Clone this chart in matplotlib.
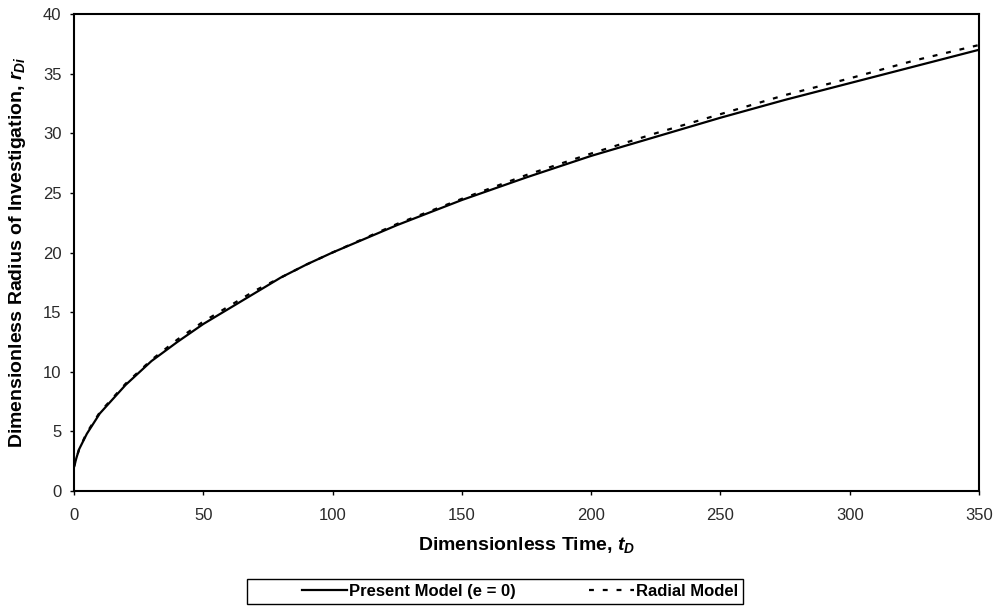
import matplotlib
matplotlib.use("Agg")
import matplotlib.pyplot as plt
from matplotlib.patches import Rectangle

plt.rcParams['font.family'] = ['Liberation Sans', 'DejaVu Sans']
plt.rcParams['mathtext.fontset'] = 'custom'
plt.rcParams['mathtext.it'] = 'Liberation Sans:italic:bold'
plt.rcParams['mathtext.rm'] = 'Liberation Sans:bold'
plt.rcParams['mathtext.bf'] = 'Liberation Sans:bold'

t_D = [0, 1, 2, 5, 10, 20, 30, 40, 50, 60, 70, 80, 90, 100, 125, 150, 175, 200,
       225, 250, 275, 300, 325, 350]
present = [2.0, 2.8, 3.5, 4.8, 6.5, 8.9, 10.9, 12.5, 14.0, 15.3, 16.6, 17.9, 19.0,
           20.0, 22.3, 24.4, 26.3, 28.1, 29.7, 31.3, 32.8, 34.2, 35.6, 37.0]
radial = [2.0, 2.8, 3.5, 4.9, 6.6, 9.0, 11.0, 12.7, 14.2, 15.5, 16.8, 17.9, 19.0,
          20.0, 22.4, 24.5, 26.5, 28.3, 30.0, 31.6, 33.2, 34.6, 36.1, 37.4]
labels = ["Present Model (e = 0)", "Radial Model"]
xticks = [0, 50, 100, 150, 200, 250, 300, 350]
yticks = [0, 5, 10, 15, 20, 25, 30, 35, 40]

fig = plt.figure(figsize=(9.99, 6.08), dpi=100)
ax = fig.add_axes([0.074, 0.1924, 0.906, 0.7846])

ax.plot(t_D, present, color='black', lw=1.6, label=labels[0])
ax.plot(t_D, radial, color='black', lw=1.6, linestyle=(0, (2.2, 4)), label=labels[1])

ax.set_xlim(0, 350)
ax.set_ylim(0, 40)
ax.set_xticks(xticks)
ax.set_yticks(yticks)
ax.tick_params(axis='both', labelsize=12, direction='out', length=3, width=1,
               colors='black', labelcolor='#2a2a2a')
ax.tick_params(axis='x', pad=9)
ax.tick_params(axis='y', pad=6)
for s in ax.spines.values():
    s.set_linewidth(1.5)

ax.set_xlabel("Dimensionless Time, $t_D$", fontsize=14, fontweight='bold', labelpad=9)
ax.set_ylabel("Dimensionless Radius of Investigation, $r_{Di}$", fontsize=14,
              fontweight='bold', labelpad=11)

leg = fig.legend(loc='center', bbox_to_anchor=(520 / 999, 1 - 591.5 / 608), ncol=2,
                 frameon=False, prop={'weight': 'bold', 'size': 12},
                 handlelength=2.7, columnspacing=4.4, borderpad=0.2,
                 handletextpad=0.1)
fig.patches.append(Rectangle((247 / 999, 1 - 604 / 608), (743 - 247) / 999, 25 / 608,
                             transform=fig.transFigure, fill=False,
                             edgecolor='black', lw=1.0))

fig.savefig("out.png", dpi=100)
